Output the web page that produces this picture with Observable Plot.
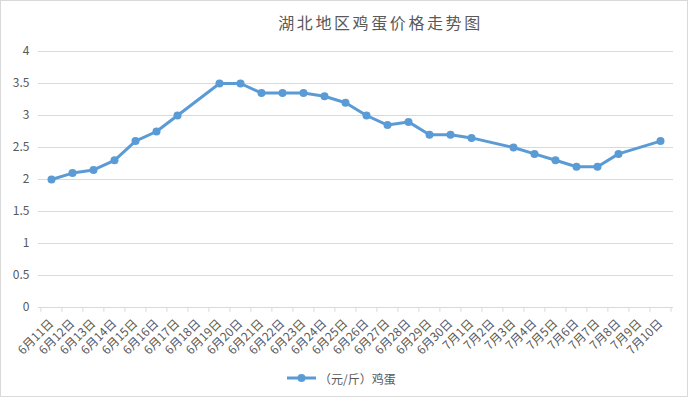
<!DOCTYPE html>
<html>
<head>
<meta charset="utf-8">
<script src="https://cdn.jsdelivr.net/npm/d3@7"></script>
<script src="https://cdn.jsdelivr.net/npm/@observablehq/plot@0.6"></script>
<style>
  html, body { margin: 0; padding: 0; background: #fff; }
  #wrap { position: relative; width: 689px; height: 398px; overflow: hidden; font-family: "Noto Sans CJK SC", "Noto Sans", sans-serif; }
  #frame { position: absolute; left: 0; top: 0; width: 688px; height: 397px; box-sizing: border-box; border: 1px solid #d9d9d9; pointer-events: none; }
  #title { position: absolute; left: 0; width: 761px; top: 10px; text-align: center; font-size: 16px; letter-spacing: 2.6px; color: #595959; line-height: 24px; }
  #legend { position: absolute; left: 286px; top: 368px; height: 20px; display: flex; align-items: center; font-size: 12px; color: #595959; }
  #chart { position: absolute; left: 0; top: 0; }
</style>
</head>
<body>
<div id="wrap">
  <div id="chart"></div>
  <div id="title">湖北地区鸡蛋价格走势图</div>
  <div id="legend"><svg width="31" height="12" style="margin-right:2px"><line x1="1" y1="6" x2="30" y2="6" stroke="#5b9bd5" stroke-width="3"/><circle cx="15.5" cy="6" r="4" fill="#5b9bd5"/></svg><span>（元/斤）鸡蛋</span></div>
  <div id="frame"></div>
</div>
<script>
const categories = ["6月11日","6月12日","6月13日","6月14日","6月15日","6月16日","6月17日","6月18日","6月19日","6月20日","6月21日","6月22日","6月23日","6月24日","6月25日","6月26日","6月27日","6月28日","6月29日","6月30日","7月1日","7月2日","7月3日","7月4日","7月5日","7月6日","7月7日","7月8日","7月9日","7月10日"];
const dates = ["6月11日","6月12日","6月13日","6月14日","6月15日","6月16日","6月17日","6月19日","6月20日","6月21日","6月22日","6月23日","6月24日","6月25日","6月26日","6月27日","6月28日","6月29日","6月30日","7月1日","7月3日","7月4日","7月5日","7月6日","7月7日","7月8日","7月10日"];
const prices = [2.0,2.1,2.15,2.3,2.6,2.75,3.0,3.5,3.5,3.35,3.35,3.35,3.3,3.2,3.0,2.85,2.9,2.7,2.7,2.65,2.5,2.4,2.3,2.2,2.2,2.4,2.6];
const yTicks = [0,0.5,1,1.5,2,2.5,3,3.5,4];

const data = dates.map((d, i) => ({date: d, price: prices[i]}));

const W = 689, H = 398, mL = 38, mR = 16, mT = 51, mB = 91;
const step = (W - mL - mR) / categories.length;

const plot = Plot.plot({
  width: W,
  height: H,
  marginLeft: mL,
  marginRight: mR,
  marginTop: mT,
  marginBottom: mB,
  style: {fontFamily: "'Noto Sans CJK SC', sans-serif", fontSize: "11px", color: "#595959", background: "transparent"},
  x: {type: "point", domain: categories, padding: 0.5, label: null},
  y: {domain: [0, 4], ticks: yTicks, label: null},
  marks: [
    Plot.ruleY(yTicks, {stroke: "#d9d9d9", strokeWidth: 1}),
    Plot.ruleX(categories, {x: d => d, dx: -step / 2, y1: 0, y2: -0.075, stroke: "#d9d9d9"}),
    Plot.ruleX([categories[categories.length - 1]], {x: d => d, dx: step / 2, y1: 0, y2: -0.075, stroke: "#d9d9d9"}),
    Plot.axisY({ticks: yTicks, tickSize: 0, tickPadding: 9, fontSize: 12, label: null, tickFormat: d => String(d)}),
    Plot.axisX({tickSize: 0, tickRotate: -45, tickPadding: 14, fontSize: 12, label: null}),
    Plot.lineY(data, {x: "date", y: "price", stroke: "#5b9bd5", strokeWidth: 3, strokeLinejoin: "round", curve: "linear"}),
    Plot.dot(data, {x: "date", y: "price", r: 4, fill: "#5b9bd5", stroke: "none"})
  ]
});
document.getElementById("chart").appendChild(plot);
</script>
</body>
</html>
